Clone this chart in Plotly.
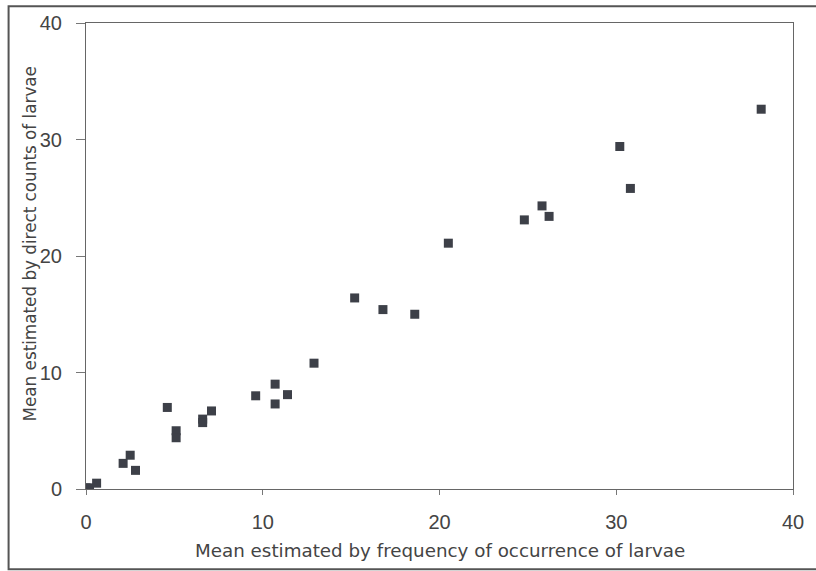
import plotly.graph_objects as go

# Mean estimated by frequency of occurrence of larvae
freq_mean = [0.0, 0.2, 0.6, 2.1, 2.5, 2.8, 4.6, 5.1, 5.1, 6.6, 6.6, 7.1, 9.6,
             10.7, 10.7, 11.4, 12.9, 15.2, 16.8, 18.6, 20.5, 24.8, 25.8, 26.2,
             30.2, 30.8, 38.2]
# Mean estimated by direct counts of larvae
count_mean = [0.1, 0.1, 0.5, 2.2, 2.9, 1.6, 7.0, 5.0, 4.4, 6.0, 5.7, 6.7, 8.0,
              9.0, 7.3, 8.1, 10.8, 16.4, 15.4, 15.0, 21.1, 23.1, 24.3, 23.4,
              29.4, 25.8, 32.6]
tick_vals = [0, 10, 20, 30, 40]

x_title = "Mean estimated by frequency of occurrence of larvae"
y_title = "Mean estimated by direct counts of larvae"

title_font = "DejaVu Sans, Arial, sans-serif"

fig = go.Figure()
fig.add_trace(go.Scatter(
    x=freq_mean, y=count_mean, mode="markers",
    marker=dict(symbol="square", size=9, color="#3d4048",
                line=dict(width=0)),
    showlegend=False,
))

axis_common = dict(
    range=[0, 40], tickvals=tick_vals, showgrid=False, zeroline=False,
    showline=True, mirror=True, linecolor="#666666", linewidth=1,
    ticks="outside", tickcolor="#777777", tickwidth=1,
    tickfont=dict(family="Liberation Sans, Arial, sans-serif", size=20,
                  color="#444444"),
)

fig.update_xaxes(**axis_common, ticklen=5, ticklabelstandoff=10)
fig.update_yaxes(**axis_common, ticklen=9, ticklabelstandoff=10)

fig.add_annotation(
    text=x_title, xref="paper", yref="paper", x=0.5, y=-0.132,
    xanchor="center", yanchor="middle", showarrow=False,
    font=dict(family=title_font, size=18.3, color="#444444"),
)
fig.add_annotation(
    text=y_title, xref="paper", yref="paper", x=-0.079, y=0.525,
    xanchor="center", yanchor="middle", showarrow=False, textangle=-90,
    font=dict(family=title_font, size=16.8, color="#444444"),
)

# outer frame around the figure
fig.add_shape(type="rect", xref="paper", yref="paper",
              x0=-0.1095, x1=1.05, y0=-0.172, y1=1.036,
              line=dict(color="#555555", width=2), layer="below")

fig.update_layout(
    width=816, height=571,
    margin=dict(l=86, r=19, t=22, b=82),
    paper_bgcolor="white", plot_bgcolor="white",
)

fig.write_html("out.html")
